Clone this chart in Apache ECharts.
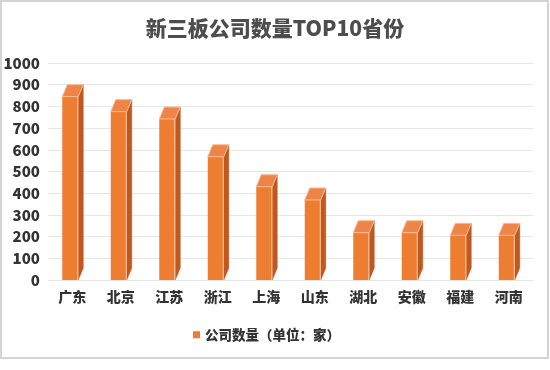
<!DOCTYPE html>
<html>
<head>
<meta charset="utf-8">
<script src="https://cdn.jsdelivr.net/npm/echarts@6/dist/echarts.min.js"></script>
<style>
html,body{margin:0;padding:0;background:#fff;}
#chart{width:550px;height:370px;}
</style>
</head>
<body>
<div id="chart"></div>
<script>
const titleText = '新三板公司数量TOP10省份';
const seriesName = '公司数量（单位：家）';
const categories = ['广东', '北京', '江苏', '浙江', '上海', '山东', '湖北', '安徽', '福建', '河南'];
const values = [845, 776, 742, 568, 430, 369, 218, 218, 206, 206];
const yMin = 0, yMax = 1000, yStep = 100;

const FONT = '"Noto Sans CJK SC", "Noto Sans", sans-serif';
const chart = echarts.init(document.getElementById('chart'), null, {renderer: 'canvas'});

function renderItem(params, api) {
  const idx = api.value(0);
  const v = api.value(1);
  const top = api.coord([idx, v]);
  const base = api.coord([idx, 0]);
  const w = 16, dx = 5, dy = 12;
  const x0 = top[0] - w / 2 - 2;
  const x1 = x0 + w;
  const yt = top[1], yb = base[1];
  return {
    type: 'group',
    children: [
      {type: 'polygon', shape: {points: [[x1, yt], [x1 + dx, yt - dy], [x1 + dx, yb - dy], [x1, yb]]},
       style: {fill: '#C1581F', stroke: '#B5501A', lineWidth: 0.5}},
      {type: 'rect', shape: {x: x0, y: yt, width: w, height: yb - yt},
       style: {fill: '#ED7D31'}},
      {type: 'polygon', shape: {points: [[x0, yt], [x0 + dx, yt - dy], [x1 + dx, yt - dy], [x1, yt]]},
       style: {fill: '#EE8448', stroke: '#F7BD96', lineWidth: 1}},
      {type: 'line', shape: {x1: x1 - 0.5, y1: yt, x2: x1 - 0.5, y2: yb},
       style: {stroke: '#F8C7A4', lineWidth: 1}}
    ]
  };
}

chart.setOption({
  animation: false,
  backgroundColor: '#ffffff',
  title: {
    text: titleText,
    left: 'center',
    top: 13,
    textStyle: {fontFamily: FONT, fontSize: 21, fontWeight: 900, color: '#4d4d4d'}
  },
  legend: {
    data: [{name: seriesName, icon: 'rect'}],
    left: 188,
    top: 323,
    itemWidth: 7,
    itemHeight: 7,
    itemGap: 6,
    textStyle: {fontFamily: FONT, fontSize: 13.5, fontWeight: 900, color: '#333333'}
  },
  grid: {left: 48, right: 17, top: 63, bottom: 90, containLabel: false},
  xAxis: {
    type: 'category',
    data: categories,
    axisLine: {show: false},
    axisTick: {show: false},
    axisLabel: {fontFamily: FONT, fontSize: 14, fontWeight: 900, color: '#333333', margin: 10}
  },
  yAxis: {
    type: 'value',
    min: yMin,
    max: yMax,
    interval: yStep,
    axisLine: {show: false},
    axisTick: {show: false},
    splitLine: {lineStyle: {color: '#e6e6e6', width: 1}},
    axisLabel: {fontFamily: FONT, fontSize: 15, fontWeight: 900, color: '#333333', margin: 8,
      formatter: function (v) { return String(v); }}
  },
  series: [{
    name: seriesName,
    type: 'custom',
    renderItem: renderItem,
    itemStyle: {color: '#ED7D31'},
    encode: {x: 0, y: 1},
    data: values.map((v, i) => [i, v])
  }],
  graphic: [{
    type: 'rect',
    shape: {x: 1, y: 1, width: 547, height: 357},
    style: {fill: 'none', stroke: '#d4d4d4', lineWidth: 2},
    silent: true,
    z: 100
  }]
});
</script>
</body>
</html>
